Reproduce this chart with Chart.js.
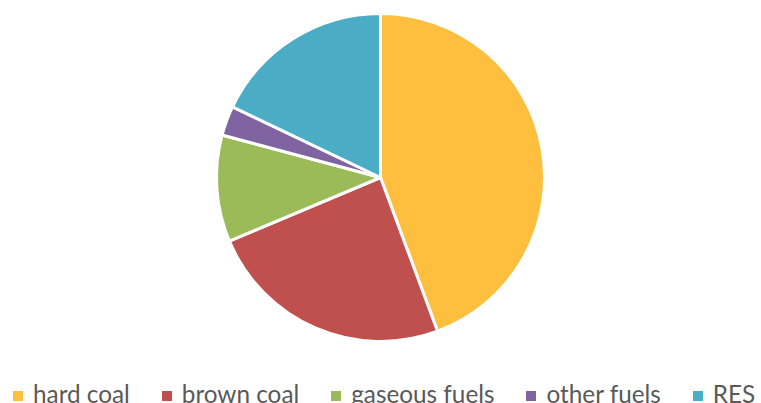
<!DOCTYPE html>
<html>
<head>
<meta charset="utf-8">
<script src="https://cdn.jsdelivr.net/npm/chart.js@4.4.1/dist/chart.umd.min.js"></script>
<style>
  html, body { margin: 0; padding: 0; background: #fff; overflow: hidden; }
  #page { width: 761px; height: 403px; position: relative; overflow: hidden; }
  #wrap { width: 761px; height: 343px; position: absolute; left: 0; top: 0; }
  #legend { position: absolute; left: 13px; top: 379px; display: flex; white-space: nowrap;
            font-family: 'Lato', sans-serif; font-size: 24.3px; line-height: 29px; color: #595959; }
  #legend .item { display: flex; align-items: flex-start; margin-right: 32px; }
  #legend .box { width: 10px; height: 10px; margin-top: 12px; margin-right: 10px; }
</style>
</head>
<body>
<div id="page">
  <div id="wrap"><canvas id="pieChart"></canvas></div>
  <div id="legend"></div>
</div>
<script>
// Fuel shares (%)
var fuels = ['hard coal', 'brown coal', 'gaseous fuels', 'other fuels', 'RES'];
var shares = [44.3, 24.3, 10.5, 2.9, 17.9];
var fuelColors = ['#FEBE3E', '#C0504D', '#9BBB59', '#8064A2', '#4BACC6'];

var ctxPie = document.getElementById('pieChart').getContext('2d');
var pieChart = new Chart(ctxPie, {
    type: 'pie',
    data: {
        labels: fuels,
        datasets: [{
            data: shares,
            backgroundColor: fuelColors,
            borderColor: '#ffffff',
            borderWidth: 3
        }]
    },
    options: {
        responsive: true,
        maintainAspectRatio: false,
        animation: false,
        layout: { padding: { top: 12 } },
        plugins: {
            tooltip: { enabled: false },
            legend: { display: false }
        }
    }
});

// Legend (one row, cut off at the bottom edge like the original)
var legend = document.getElementById('legend');
pieChart.data.labels.forEach(function(label, i) {
    var item = document.createElement('div');
    item.className = 'item';
    item.innerHTML = '<span class="box" style="background:' + fuelColors[i] + '"></span><span>' + label + '</span>';
    legend.appendChild(item);
});
</script>
</body>
</html>
